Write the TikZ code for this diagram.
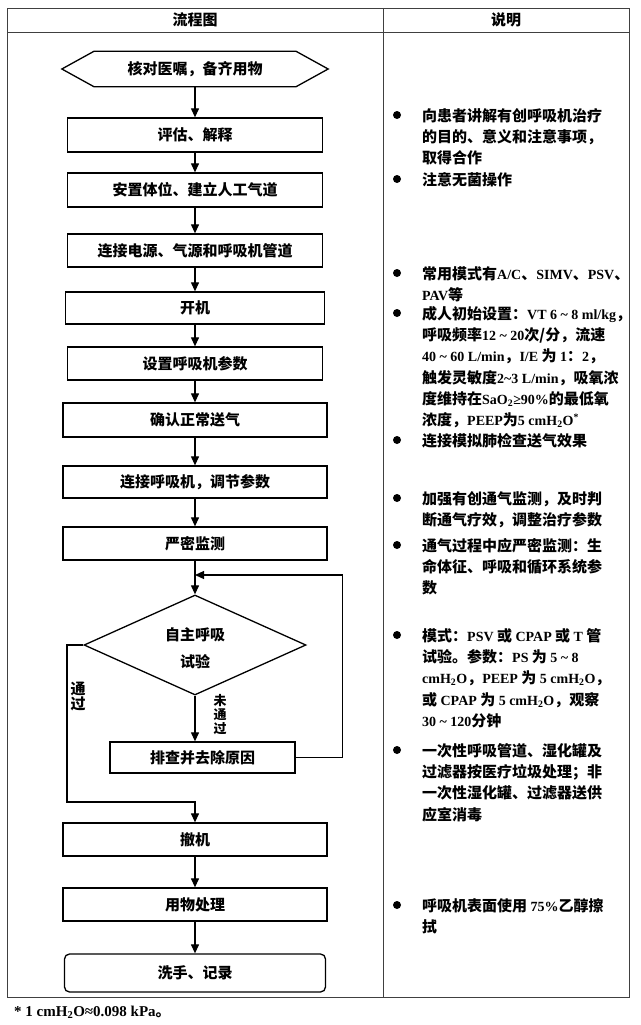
\documentclass[tikz,border=0pt]{standalone}
\usepackage{fontspec}
\setmainfont{Noto Sans CJK SC}
\newfontfamily\ltn{Liberation Serif}
\usetikzlibrary{arrows.meta,shapes.geometric,calc}
\newcommand\latsz{}
\newcommand\Lt[1]{{\ltn\bfseries\latsz #1}}
\newcommand\tld{\textasciitilde}
\begin{document}
\begin{tikzpicture}[x=1pt,y=-1pt,
  box/.style={draw,line width=1.3pt,minimum height=33pt,inner sep=0pt,font=\fontsize{15}{18}\selectfont\bfseries},
  arr/.style={-{Triangle[length=9pt,width=8pt]},line width=1.2pt},
  tbl/.style={line width=0.8pt,draw=black!75},
  note/.style={anchor=north west,align=left,inner sep=0pt,font={\fontsize{15}{21.3}\selectfont\bfseries\renewcommand\latsz{\fontsize{14}{21.3}\selectfont}}},
  hdr/.style={inner sep=0pt,font=\fontsize{15}{18}\selectfont\bfseries},
  lbl/.style={inner sep=0pt,align=center,font=\fontsize{15}{15}\selectfont\bfseries},
  lbls/.style={inner sep=0pt,align=center,font=\fontsize{13}{14}\selectfont\bfseries},
  ]
\useasboundingbox (0,0) rectangle (640,1025);
% table
\draw[tbl] (7,8) rectangle (629,997);
\draw[tbl] (7,32) -- (629,32);
\draw[tbl] (383,8) -- (383,997);
\node[hdr] (h1) at (195,20) {流程图};
\node[hdr] (h2) at (506,20) {说明};
% flow
\node[box,draw=none,minimum width=265,minimum height=34] (s0) at (195,69) {核对医嘱，备齐用物};
\draw[line width=1.3pt] (s0.west) -- ($(s0.north west)+(32,0)$) -- ($(s0.north east)+(-32,0)$) -- (s0.east) -- ($(s0.south east)+(-32,0)$) -- ($(s0.south west)+(32,0)$) -- cycle;
\node[box,minimum width=255,minimum height=34] (s1) at (195,135) {评估、解释};
\node[box,minimum width=255,minimum height=34] (s2) at (195,190) {安置体位、建立人工气道};
\node[box,minimum width=255] (s3) at (195,250.5) {连接电源、气源和呼吸机管道};
\node[box,minimum width=259,minimum height=32] (s4) at (195,308) {开机};
\node[box,minimum width=255] (s5) at (195,363.5) {设置呼吸机参数};
\node[box,minimum width=264,minimum height=34] (s6) at (195,420) {确认正常送气};
\node[box,minimum width=264,minimum height=32] (s7) at (195,482) {连接呼吸机，调节参数};
\node[box,minimum width=264] (s8) at (195,543.5) {严密监测};
\node[diamond,draw,line width=1.3pt,minimum width=222,minimum height=100,inner sep=0pt,aspect=2.22] (d) at (195,645) {};
\node[lbl,font=\fontsize{15}{27}\selectfont\bfseries] (dt) at (195,648.5) {自主呼吸\\试验};
\node[box,minimum width=185,minimum height=31] (s9) at (202.5,757.5) {排查并去除原因};
\node[box,minimum width=264] (s10) at (195,839.5) {撤机};
\node[box,minimum width=264] (s11) at (195,904.5) {用物处理};
\node[box,minimum width=261,minimum height=38,rounded corners=5pt] (s12) at (195,973) {洗手、记录};
\coordinate (j) at (195,575);
\coordinate (p) at (67,802);
\draw[arr] (s0.south) -- (s1.north);
\draw[arr] (s1.south) -- (s2.north);
\draw[arr] (s2.south) -- (s3.north);
\draw[arr] (s3.south) -- (s4.north);
\draw[arr] (s4.south) -- (s5.north);
\draw[arr] (s5.south) -- (s6.north);
\draw[arr] (s6.south) -- (s7.north);
\draw[arr] (s7.south) -- (s8.north);
\draw[arr] (s8.south) -- (d.north);
\draw[arr] (d.south) -- (d.south |- s9.north);
\draw[arr] (s9.east) -- ++(47,0) |- (j);
\draw[arr] (d.west) -| (p) -- (p -| s10.north) -- (s10.north);
\draw[arr] (s10.south) -- (s11.north);
\draw[arr] (s11.south) -- (s12.north);
\node[lbl] (l1) at (78,696) {通\\过};
\node[lbls] (l2) at (220,715) {未\\通\\过};
% notes
\foreach \y in {115,179,273,313,440,498,545,635,750,905} \fill (397,\y) circle (4);
\node[note] (b1) at (422,108) {向患者讲解有创呼吸机治疗\\的目的、意义和注意事项，\\取得合作};
\node[note] (b2) at (422,172) {注意无菌操作};
\node[note] (b3) at (422,266) {常用模式有\Lt{A/C}、\Lt{SIMV}、\Lt{PSV}、\\\Lt{PAV}等};
\node[note] (b4) at (422,306) {成人初始设置：\Lt{VT 6 \tld{} 8 ml/kg}，\\呼吸频率\Lt{12 \tld{} 20}次/分，流速\\\Lt{40 \tld{} 60 L/min}，\Lt{I/E} 为 \Lt{1}：\Lt{2}，\\触发灵敏度\Lt{2\tld{}3 L/min}，吸氧浓\\度维持在\Lt{SaO\textsubscript{2}≥90\%}的最低氧\\浓度，\Lt{PEEP}为\Lt{5 cmH\textsubscript{2}O\textsuperscript{*}}};
\node[note] (b5) at (422,433) {连接模拟肺检查送气效果};
\node[note] (b6) at (422,491) {加强有创通气监测，及时判\\断通气疗效，调整治疗参数};
\node[note] (b7) at (422,538) {通气过程中应严密监测：生\\命体征、呼吸和循环系统参\\数};
\node[note] (b8) at (422,628) {模式：\Lt{PSV} 或 \Lt{CPAP} 或 \Lt{T} 管\\试验。参数：\Lt{PS} 为 \Lt{5 \tld{} 8}\\\Lt{cmH\textsubscript{2}O}，\Lt{PEEP} 为 \Lt{5 cmH\textsubscript{2}O}，\\或 \Lt{CPAP} 为 \Lt{5 cmH\textsubscript{2}O}，观察\\\Lt{30 \tld{} 120}分钟};
\node[note] (b9) at (422,743) {一次性呼吸管道、湿化罐及\\过滤器按医疗垃圾处理；非\\一次性湿化罐、过滤器送供\\应室消毒};
\node[note] (b10) at (422,898) {呼吸机表面使用 \Lt{75\%}乙醇擦\\拭};
\node[anchor=west,inner sep=0pt,font=\fontsize{15}{18}\selectfont\bfseries] (fn) at (14,1012) {\Lt{* 1 cmH\textsubscript{2}O≈0.098 kPa}。};
\end{tikzpicture}
\end{document}
